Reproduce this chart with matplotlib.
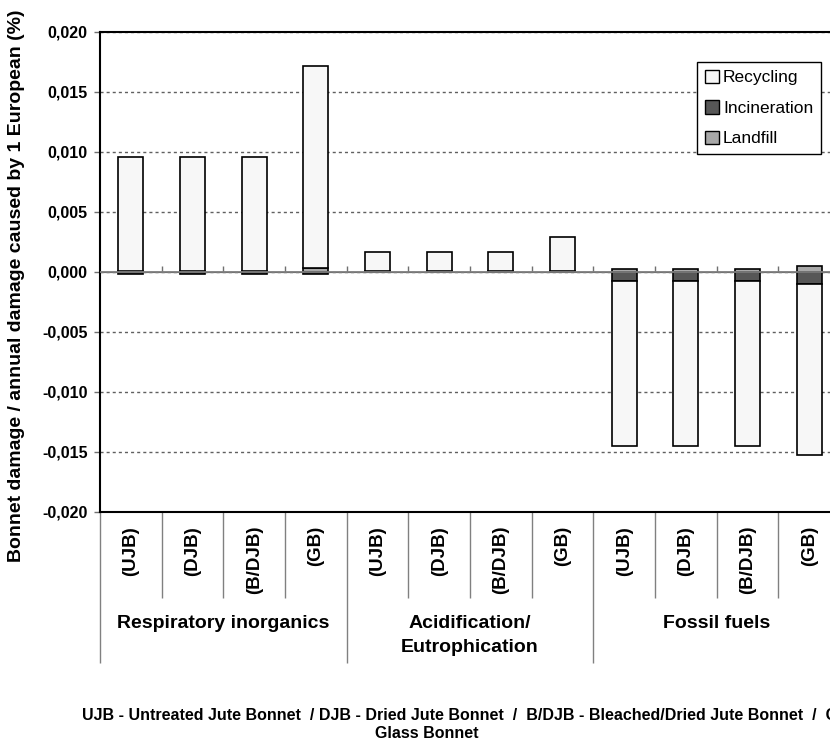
import matplotlib
matplotlib.use("Agg")
import matplotlib.pyplot as plt
from matplotlib.patches import Patch
from matplotlib.ticker import FuncFormatter, FixedLocator, NullFormatter
import numpy as np

plt.rcParams['font.family'] = ['Liberation Sans', 'DejaVu Sans']

# ---- data -------------------------------------------------------------
groups = ["Respiratory inorganics", "Acidification/\nEutrophication", "Fossil fuels"]
variants = ["(UJB)", "(DJB)", "(B/DJB)", "(GB)"]
series_names = ["Recycling", "Incineration", "Landfill"]

recycling = [0.0095, 0.0095, 0.0095, 0.0169,
             0.0016, 0.0016, 0.0016, 0.0029,
             -0.0137, -0.0137, -0.0137, -0.0143]
incineration = [-0.0002, -0.0002, -0.0002, -0.0002,
                -0.00003, -0.00003, -0.00003, -0.00003,
                -0.0008, -0.0008, -0.0008, -0.0010]
landfill = [0.0001, 0.0001, 0.0001, 0.0003,
            0.00003, 0.00003, 0.00003, 0.00003,
            0.0002, 0.0002, 0.0002, 0.00045]

y_ticks = [-0.020, -0.015, -0.010, -0.005, 0.000, 0.005, 0.010, 0.015, 0.020]
footer_1 = ("UJB - Untreated Jute Bonnet  / DJB - Dried Jute Bonnet  /  "
            "B/DJB - Bleached/Dried Jute Bonnet  /  GB -")
footer_2 = "Glass Bonnet"

colors = {"Recycling": "#f7f7f7", "Incineration": "#575757", "Landfill": "#a8a8a8"}

# ---- figure -----------------------------------------------------------
W, H = 830, 743
fig = plt.figure(figsize=(W / 100, H / 100), dpi=100)
ax_l, ax_r, ax_t, ax_b = 100, 840, 32, 511.7
ax = fig.add_axes([ax_l / W, 1 - ax_b / H, (ax_r - ax_l) / W, (ax_b - ax_t) / H])

n = len(recycling)
x = np.arange(n) + 0.5
bar_w = 0.405

# stack order: landfill, incineration, recycling; positives up, negatives down
pos_base = np.zeros(n)
neg_base = np.zeros(n)
series = {"Landfill": np.array(landfill), "Incineration": np.array(incineration),
          "Recycling": np.array(recycling)}
for name in ["Landfill", "Incineration", "Recycling"]:
    vals = series[name]
    bottoms = np.where(vals >= 0, pos_base, neg_base)
    ax.bar(x, vals, bar_w, bottom=bottoms, color=colors[name],
           edgecolor="black", linewidth=1.2, zorder=3)
    pos_base = pos_base + np.where(vals >= 0, vals, 0)
    neg_base = neg_base + np.where(vals < 0, vals, 0)

ax.set_xlim(0, n)
ax.set_ylim(-0.020, 0.020)

# y axis
ax.set_yticks(y_ticks)
ax.yaxis.set_major_formatter(FuncFormatter(lambda v, p: f"{v:.3f}".replace(".", ",")))
for lab in ax.get_yticklabels():
    lab.set_fontweight("bold")
ax.tick_params(axis="y", direction="out", length=4, width=1, color="#707070",
               labelsize=11.5, pad=5)
ax.yaxis.grid(True, linestyle=(0, (2.2, 2.2)), color="#606060", linewidth=1.0, zorder=0)

for side in ["left", "top", "bottom"]:
    ax.spines[side].set_color("black")
    ax.spines[side].set_linewidth(1.5)
ax.spines["right"].set_visible(False)

# zero line with short tick marks at category boundaries
ax.axhline(0, color="#808080", linewidth=1.3, zorder=4)
zero_ax = ax.secondary_xaxis(0.5)
zero_ax.set_xticks(np.arange(1, n))
zero_ax.xaxis.set_major_formatter(NullFormatter())
zero_ax.tick_params(axis="x", direction="out", length=4, width=1, color="#707070")
zero_ax.spines["bottom"].set_visible(False)

# two-level category axis: inner separators and group separators
ax.xaxis.set_major_locator(FixedLocator([0, 4, 8, 12]))
ax.xaxis.set_minor_locator(FixedLocator([1, 2, 3, 5, 6, 7, 9, 10, 11]))
ax.xaxis.set_major_formatter(NullFormatter())
ax.tick_params(axis="x", which="major", direction="out", length=151 * 0.72,
               width=1, color="#808080")
ax.tick_params(axis="x", which="minor", direction="out", length=86 * 0.72,
               width=1, color="#808080")

ax_h = ax_b - ax_t
def ypix(py):
    return (ax_b - py) / ax_h

for i in range(n):
    ax.text(x[i], ypix(526), variants[i % len(variants)], rotation=90,
            ha="center", va="top", fontsize=13.5, fontweight="bold",
            transform=ax.get_xaxis_transform(), clip_on=False)

for g, name in enumerate(groups):
    ax.text(g * 4 + 2, ypix(615), name, ha="center", va="top", fontsize=14,
            fontweight="bold", linespacing=1.5,
            transform=ax.get_xaxis_transform(), clip_on=False)

# axis title
fig.text(17 / W, 1 - 286 / H, "Bonnet damage / annual damage caused by 1 European (%)",
         rotation=90, ha="center", va="center", fontsize=14, fontweight="bold")

# legend
handles = [Patch(facecolor=colors[s], edgecolor="black", linewidth=1.0) for s in series_names]
leg = fig.legend(handles, series_names, loc="upper left",
                 bbox_to_anchor=(697 / W, 1 - 62 / H), fontsize=12.5,
                 handlelength=0.8, handleheight=0.8, handletextpad=0.25,
                 labelspacing=0.85, borderpad=0.45, borderaxespad=0, fancybox=False,
                 edgecolor="black", framealpha=1)
leg.get_frame().set_linewidth(1.0)

# footer
narrow = ['Liberation Sans Narrow', 'Liberation Sans', 'DejaVu Sans']
fig.text(82 / W, 1 - 716 / H, footer_1, ha="left", va="center",
         fontsize=11.5, fontweight="bold", family=narrow)
fig.text(427 / W, 1 - 733 / H, footer_2, ha="center", va="center",
         fontsize=11.5, fontweight="bold", family=narrow)

fig.savefig("out.png", dpi=100)
